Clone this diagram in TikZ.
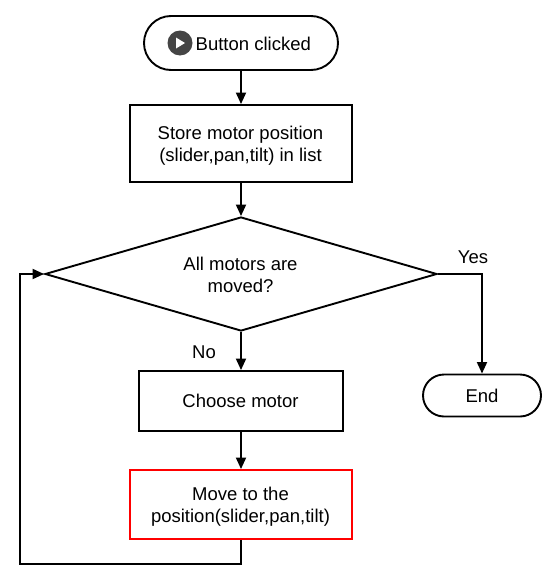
\documentclass[tikz,border=0pt]{standalone}
\usepackage{fontspec}
\setmainfont{Liberation Sans}
\usetikzlibrary{arrows.meta,shapes.geometric}
\definecolor{iconc}{HTML}{454545}
\tikzset{
  x=1pt,y=-1pt,
  conn/.style={draw=black,line width=1.9pt,-{Triangle[length=11.5pt,width=10pt]}},
  box/.style={draw=black,line width=1.9pt,minimum width=#1,inner sep=0pt},
  lbl/.style={font=\fontsize{18.5}{22}\selectfont,inner sep=0pt,align=center}
}
\begin{document}
\begin{tikzpicture}
\useasboundingbox (0,0) rectangle (551,581);
\node[box=194pt,minimum height=54pt,rounded corners=27pt] (start) at (241,43) {};
\fill[iconc] (180,43) circle (12.5);
\fill[white] (176,37.5) -- (185,43) -- (176,48.5) -- cycle;
\node[lbl,anchor=west] (startt) at (195.5,43.5) {Button clicked};
\node[box=222pt,minimum height=77pt] (store) at (241,143.5) {};
\node[lbl] (storet) at (240.5,145.5) {Store motor position\\(slider,pan,tilt) in list};
\node[box=0pt,draw,diamond,shape aspect=3.45,minimum width=392pt,minimum height=114pt] (dec) at (241,274) {};
\node[lbl] (dect) at (240.5,275) {All motors are\\moved?};
\node[box=204pt,minimum height=60pt] (choose) at (241,401) {};
\node[lbl] (chooset) at (240.5,401) {Choose motor};
\node[box=222pt,minimum height=69pt,draw=red] (move) at (241,504.5) {};
\node[lbl] (movet) at (240.5,507) {Move to the\\position(slider,pan,tilt)};
\node[box=118pt,minimum height=42pt,rounded corners=21pt] (end) at (482,395.5) {};
\node[lbl] (endt) at (482,395.5) {End};
\node[lbl] (yes) at (473,257) {Yes};
\node[lbl] (no) at (204,352) {No};
\coordinate (c1) at (241,564);
\coordinate (c2) at (20,564);
\coordinate (c3) at (20,274);
\coordinate (c4) at (482,274);
\draw[conn] (start) -- (store);
\draw[conn] (store) -- (dec);
\draw[conn] (dec) -- (choose);
\draw[conn] (choose) -- (move);
\draw[conn] (dec.east) -- (c4) -- (end);
\draw[conn] (move) -- (c1) -- (c2) -- (c3) -- (dec.west);
\end{tikzpicture}
\end{document}
